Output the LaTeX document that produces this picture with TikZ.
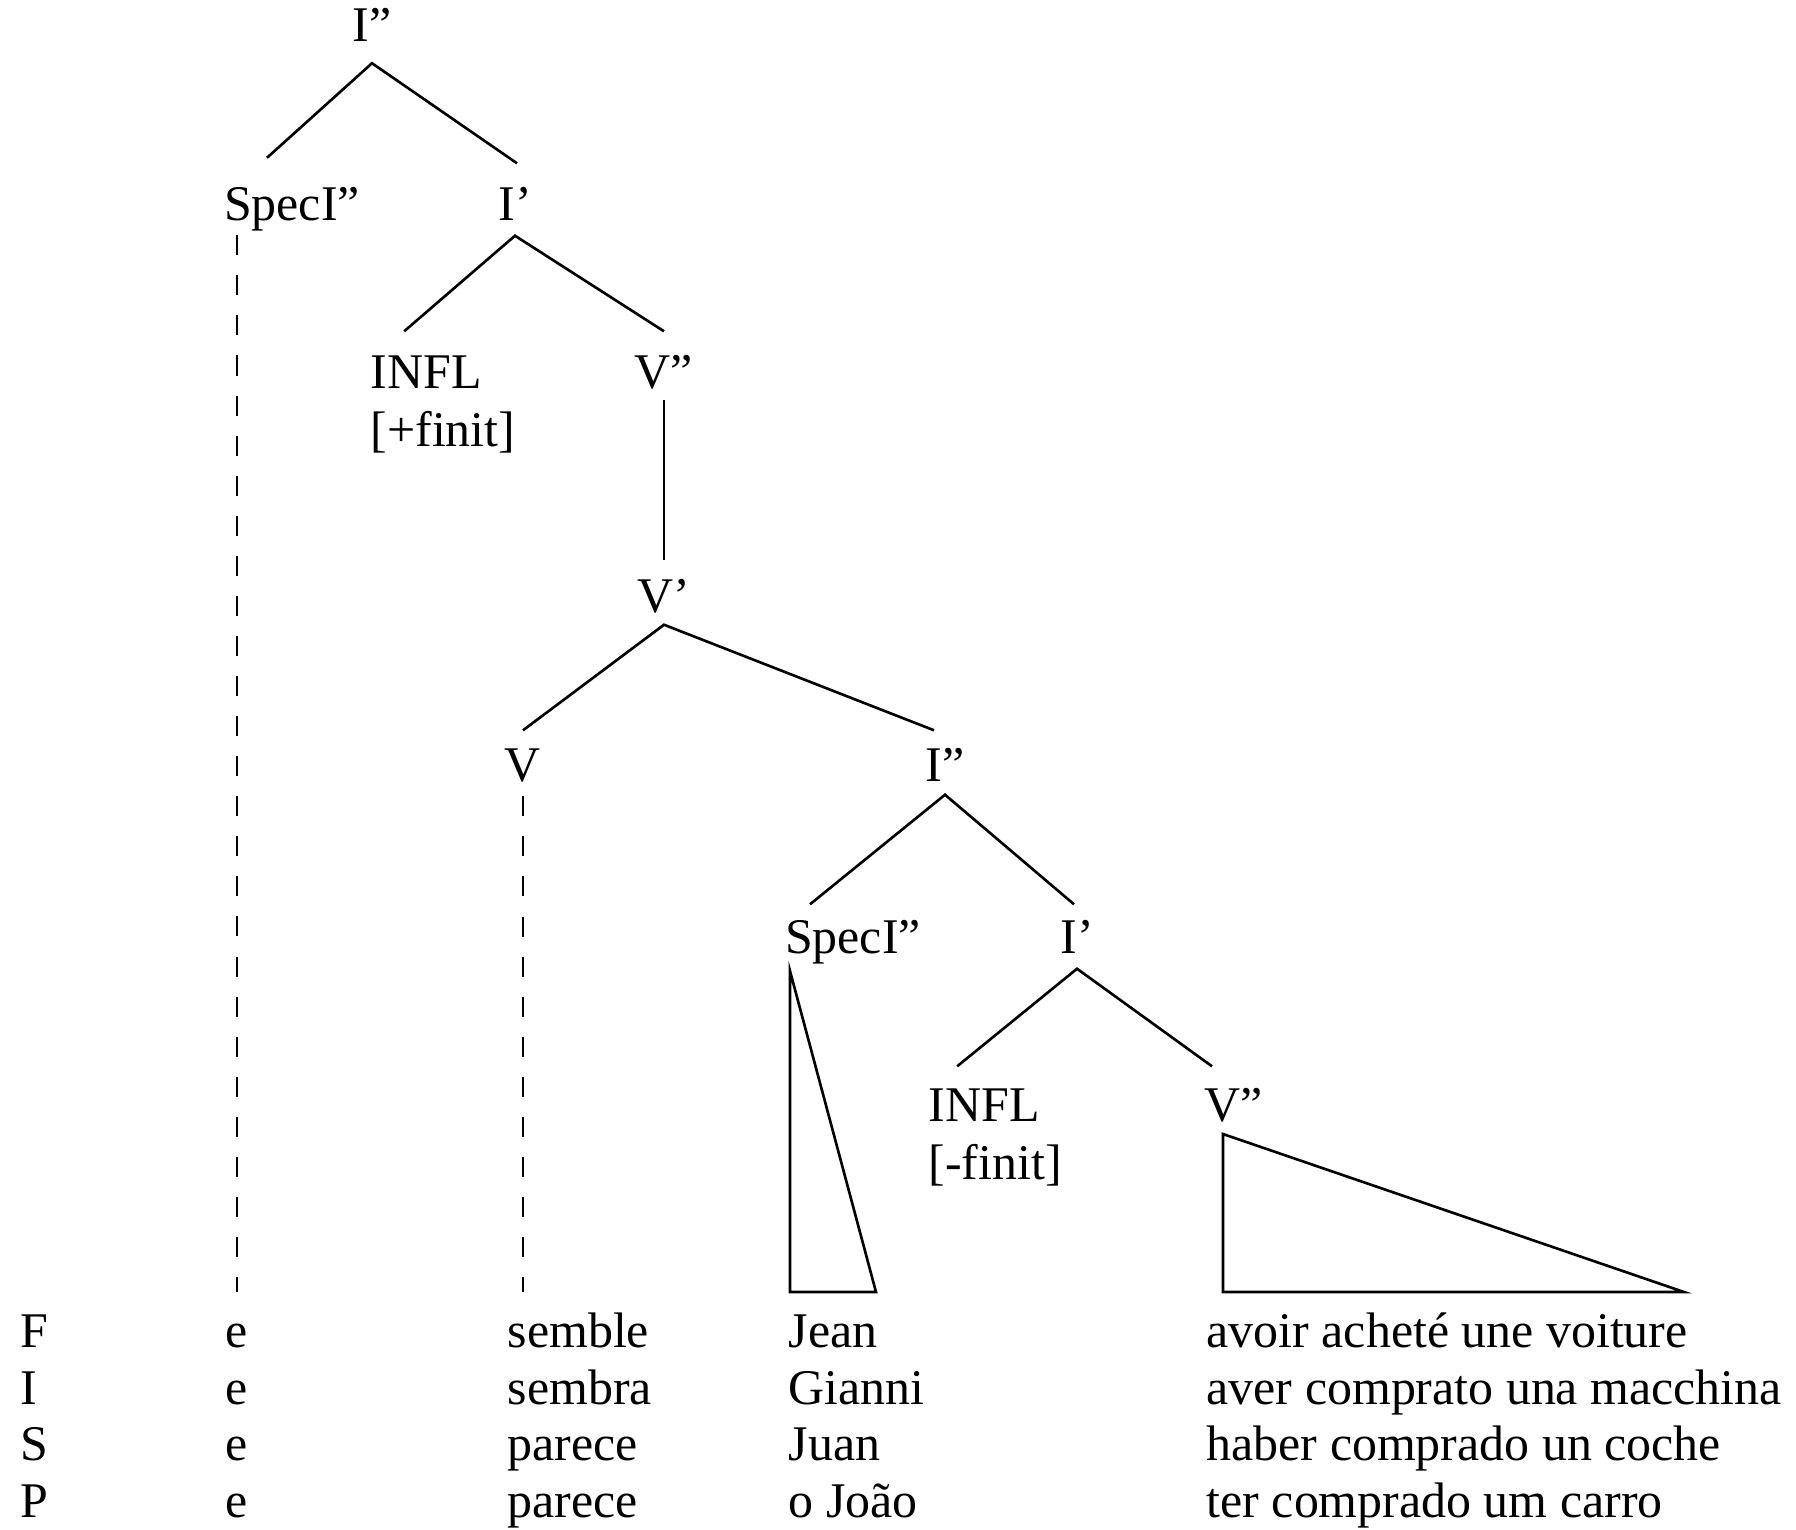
\documentclass[tikz,border=0pt]{standalone}
\usepackage{fontspec}
\setmainfont{Liberation Serif}
\usepackage{tikz}
\usetikzlibrary{calc}

\begin{document}
\begin{tikzpicture}[
  cat/.style={inner sep=0pt, text height=9.4pt, text depth=0pt, font=\fontsize{14.2}{17}\selectfont},
  word/.style={cat, anchor=base west},
  branch/.style={line width=0.75pt, line join=miter},
  trace/.style={line width=0.75pt, dash pattern=on 5.7pt off 5.7pt, shorten <=4pt, shorten >=6pt},
  roof/.style={line width=0.75pt, line join=miter},
]
  \useasboundingbox (0,0) rectangle (17.96,-15.29);

  % upper clause
  \node[cat] (ip1)   at (3.72,-0.25) {I”};
  \node[cat] (spec1) at (2.92,-2.04) {SpecI”};
  \node[cat] (ibar1) at (5.15,-2.04) {I’};
  \node[cat, anchor=west] (infl1) at (3.70,-3.72) {INFL};
  \node[cat, anchor=west] (fin1)  at (3.70,-4.30) {[+finit]};
  \node[cat] (vp1)   at (6.64,-3.72) {V”};
  \node[cat] (vbar)  at (6.64,-5.96) {V’};
  \node[cat] (v)     at (5.23,-7.65) {V};

  % embedded clause
  \node[cat] (ip2)   at (9.45,-7.65) {I”};
  \node[cat] (spec2) at (8.53,-9.37) {SpecI”};
  \node[cat] (ibar2) at (10.77,-9.37) {I’};
  \node[cat, anchor=west] (infl2) at (9.28,-11.05) {INFL};
  \node[cat, anchor=west] (fin2)  at (9.28,-11.63) {[-finit]};
  \node[cat] (vp2)   at (12.34,-11.05) {V”};

  % languages
  \node[word] (langF) at (0.20,-13.47) {F};
  \node[word] (langI) at (0.20,-14.04) {I};
  \node[word] (langS) at (0.20,-14.60) {S};
  \node[word] (langP) at (0.20,-15.17) {P};

  \node[cat, anchor=base] (eF) at (2.37,-13.47) {e};
  \node[cat, anchor=base] (eI) at (2.37,-14.04) {e};
  \node[cat, anchor=base] (eS) at (2.37,-14.60) {e};
  \node[cat, anchor=base] (eP) at (2.37,-15.17) {e};

  \node[word] (semF) at (5.07,-13.47) {semble};
  \node[word] (semI) at (5.07,-14.04) {sembra};
  \node[word] (semS) at (5.07,-14.60) {parece};
  \node[word] (semP) at (5.07,-15.17) {parece};

  \node[word] (subjF) at (7.88,-13.47) {Jean};
  \node[word] (subjI) at (7.88,-14.04) {Gianni};
  \node[word] (subjS) at (7.88,-14.60) {Juan};
  \node[word] (subjP) at (7.88,-15.17) {o João};

  \node[word] (predF) at (12.06,-13.47) {avoir acheté une voiture};
  \node[word] (predI) at (12.06,-14.04) {aver comprato una macchina};
  \node[word] (predS) at (12.06,-14.60) {haber comprado un coche};
  \node[word] (predP) at (12.06,-15.17) {ter comprado um carro};

  % Branches
  \draw[branch] ([xshift=-0.25cm,yshift=0.29cm]spec1.north) -- ([yshift=-0.21cm]ip1.south)
    -- ([xshift=0.02cm,yshift=0.235cm]ibar1.north);
  \draw[branch] ([xshift=-0.22cm,yshift=0.235cm]infl1.north) -- ([yshift=-0.145cm]ibar1.south)
    -- ([yshift=0.235cm]vp1.north);
  \draw[branch] ([yshift=-0.105cm]vp1.south) -- ([yshift=0.185cm]vbar.north);
  \draw[branch] ([yshift=0.175cm]v.north) -- ([yshift=-0.115cm]vbar.south)
    -- ([xshift=-0.11cm,yshift=0.175cm]ip2.north);
  \draw[branch] ([xshift=-0.43cm,yshift=0.155cm]spec2.north) -- ([yshift=-0.125cm]ip2.south)
    -- ([xshift=-0.03cm,yshift=0.155cm]ibar2.north);
  \draw[branch] ([xshift=-0.27cm,yshift=0.215cm]infl2.north) -- ([yshift=-0.145cm]ibar2.south)
    -- ([xshift=-0.22cm,yshift=0.215cm]vp2.north);

  % traces
  \draw[trace] (spec1.south -| eF.north) -- (eF.north);
  \draw[trace] (v.south) -- (v.south |- semF.north);

  % roofs
  \draw[roof] (7.90,-9.71) -- (7.90,-12.92) -- (8.76,-12.92) -- cycle;
  \draw[roof] (12.23,-11.34) -- (12.23,-12.92) -- (16.84,-12.92) -- cycle;
\end{tikzpicture}
\end{document}
